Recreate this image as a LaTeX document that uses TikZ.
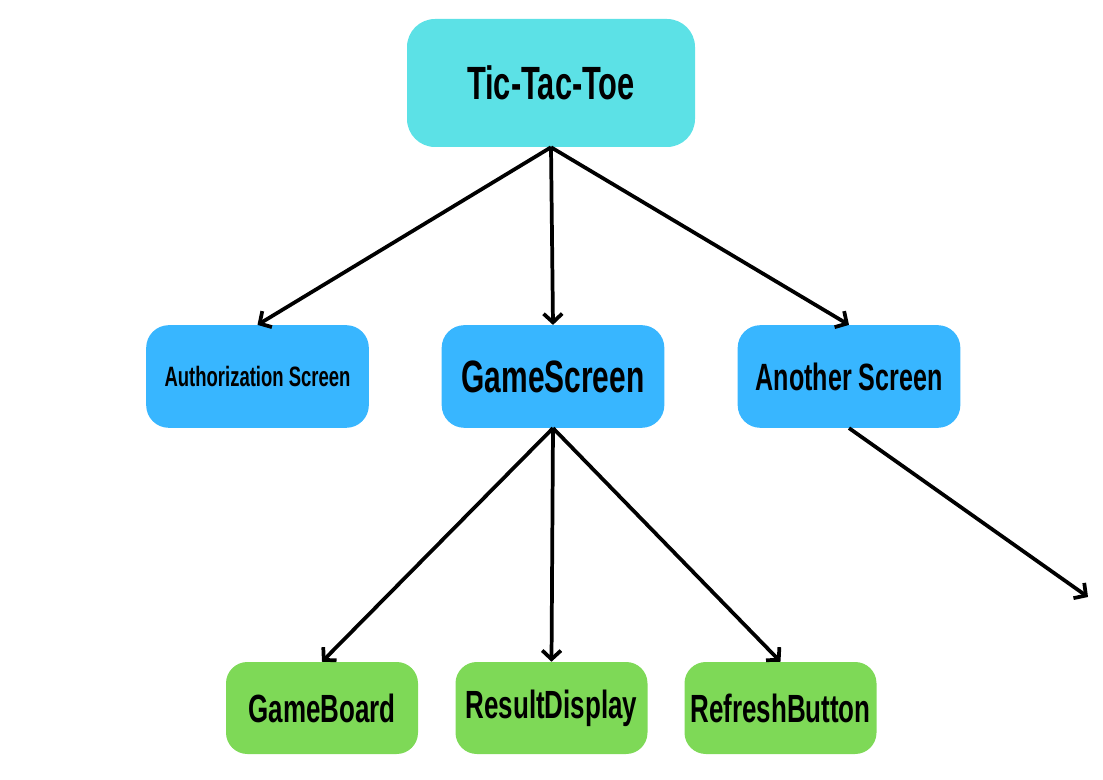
\documentclass[tikz,border=0pt]{standalone}
\usepackage{fontspec}
\setmainfont{Liberation Sans}[FakeStretch=0.66]
\usetikzlibrary{arrows.meta}
\definecolor{topcyan}{HTML}{5CE1E6}
\definecolor{midblue}{HTML}{38B6FF}
\definecolor{lowgreen}{HTML}{7ED957}
\tikzset{
  topbox/.style={fill=topcyan, rounded corners=21pt, minimum width=216pt, minimum height=96pt, font=\bfseries\fontsize{35}{36}\selectfont},
  midbox/.style={fill=midblue, rounded corners=17pt, minimum width=167pt, minimum height=77pt, font=\bfseries\fontsize{28.5}{30}\selectfont},
  lowbox/.style={fill=lowgreen, rounded corners=16pt, minimum width=144pt, minimum height=69pt, font=\bfseries\fontsize{29.5}{31}\selectfont},
  link/.style={line width=2.8pt, -{Straight Barb[length=6.5pt,width=14pt]}}
}
\begin{document}
\begin{tikzpicture}[x=0.75pt,y=-0.75pt]
\useasboundingbox (0,0) rectangle (1103,780);

\node[topbox] (root) at (551,83) {Tic-Tac-Toe};

\node[midbox, font=\bfseries\fontsize{21}{23}\selectfont] (auth) at (257.5,376.5) {Authorization Screen};
\node[midbox, font=\bfseries\fontsize{34}{35}\selectfont] (game) at (553,376.5) {GameScreen};
\node[midbox] (other) at (849,376.5) {Another Screen};

\node[lowbox] (board) at (322,708) {GameBoard};
\node[lowbox] (result) at (551.5,708) {ResultDisplay};
\node[lowbox] (refresh) at (780.5,708) {RefreshButton};

\coordinate (more) at (1088,597);

\draw[link] (root.south) -- (auth.north);
\draw[link] (root.south) -- (game.north);
\draw[link] (root.south) -- (other.north);

\draw[link] (game.south) -- (board.north);
\draw[link] (game.south) -- (result.north);
\draw[link] (game.south) -- (refresh.north);

\draw[link] (other.south) -- (more);
\end{tikzpicture}
\end{document}
